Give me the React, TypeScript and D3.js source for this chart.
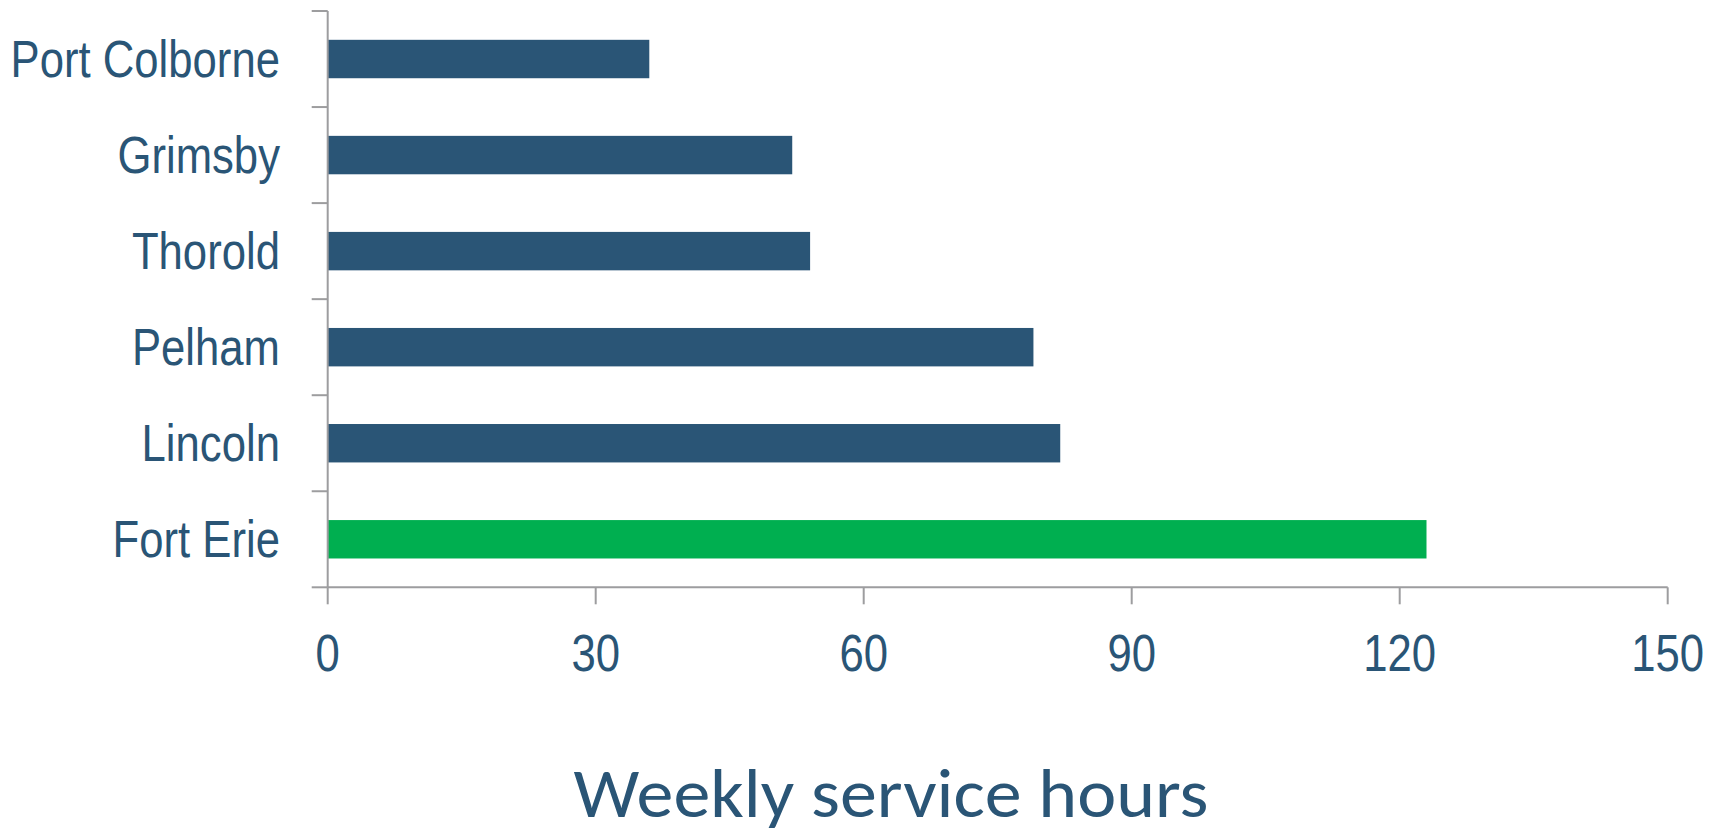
import React, { useEffect, useRef } from "react";
import * as d3 from "d3";

const categories = ["Port Colborne", "Grimsby", "Thorold", "Pelham", "Lincoln", "Fort Erie"];
const hours = [36, 52, 54, 79, 82, 123];
const highlight = ["Fort Erie"];
const xTicks = [0, 30, 60, 90, 120, 150];
const axisTitle = "Weekly service hours";

const BLUE = "#2a5576";
const GREEN = "#00af50";
const GREY = "#9d9d9f";
const TEXT = "#2a5576";

export default function App() {
  const ref = useRef<SVGSVGElement>(null);

  useEffect(() => {
    document.body.style.margin = "0";
    document.body.style.overflow = "hidden";

    const svg = d3.select(ref.current);
    svg.selectAll("*").remove();

    const left = 327.7;
    const right = 1667.7;
    const top = 11;
    const bottom = 587.3;
    // no narrow font installed, so squeeze Liberation Sans horizontally
    const squeeze = 0.84;

    const x = d3.scaleLinear().domain([0, 150]).range([left, right]);
    const y = d3
      .scaleBand()
      .domain(categories)
      .range([top, bottom])
      .paddingInner(0.6)
      .paddingOuter(0.3);

    const data = categories.map((c, i) => ({ name: c, value: hours[i] }));

    // bars
    svg
      .append("g")
      .selectAll("rect")
      .data(data)
      .enter()
      .append("rect")
      .attr("x", x(0))
      .attr("y", d => y(d.name) as number)
      .attr("width", d => x(d.value) - x(0))
      .attr("height", y.bandwidth())
      .style("fill", d => (highlight.includes(d.name) ? GREEN : BLUE));

    const axes = svg.append("g").attr("stroke", GREY).attr("stroke-width", 2);

    // y axis line + ticks at band boundaries
    axes.append("line").attr("x1", left).attr("x2", left).attr("y1", top).attr("y2", bottom);
    const bounds = categories.map(c => (y(c) as number) - (y.step() * y.paddingInner()) / 2);
    bounds.push(bottom);
    axes
      .selectAll("line.ytick")
      .data(bounds)
      .enter()
      .append("line")
      .attr("class", "ytick")
      .attr("x1", left - 16)
      .attr("x2", left)
      .attr("y1", d => d)
      .attr("y2", d => d);

    // x axis line + ticks
    axes.append("line").attr("x1", left).attr("x2", right).attr("y1", bottom).attr("y2", bottom);
    axes
      .selectAll("line.xtick")
      .data(xTicks)
      .enter()
      .append("line")
      .attr("class", "xtick")
      .attr("x1", d => x(d))
      .attr("x2", d => x(d))
      .attr("y1", bottom)
      .attr("y2", bottom + 17);

    const narrow = "'Liberation Sans Narrow', 'Liberation Sans', Arial, sans-serif";

    // category labels
    svg
      .append("g")
      .selectAll("text")
      .data(categories)
      .enter()
      .append("text")
      .attr(
        "transform",
        d => `translate(280,${(y(d) as number) + y.bandwidth() / 2}) scale(${squeeze},1)`
      )
      .attr("dy", "0.34em")
      .attr("text-anchor", "end")
      .style("font-family", narrow)
      .style("font-size", "52px")
      .style("fill", TEXT)
      .text(d => d);

    // x tick labels
    svg
      .append("g")
      .selectAll("text")
      .data(xTicks)
      .enter()
      .append("text")
      .attr("transform", d => `translate(${x(d)},671) scale(${squeeze},1)`)
      .attr("text-anchor", "middle")
      .style("font-family", narrow)
      .style("font-size", "52px")
      .style("fill", TEXT)
      .text(d => String(d));

    // axis title
    svg
      .append("text")
      .attr("x", 891 - 635 / 2)
      .attr("y", 817)
      .attr("textLength", 635)
      .attr("lengthAdjust", "spacingAndGlyphs")
      .style("font-family", "Carlito, Calibri, Lato, sans-serif")
      .style("font-size", "69px")
      .style("fill", TEXT)
      .text(axisTitle);
  }, []);

  return (
    <svg
      ref={ref}
      width={1723}
      height={828}
      style={{ position: "fixed", left: 0, top: 0, background: "#fff" }}
    />
  );
}
